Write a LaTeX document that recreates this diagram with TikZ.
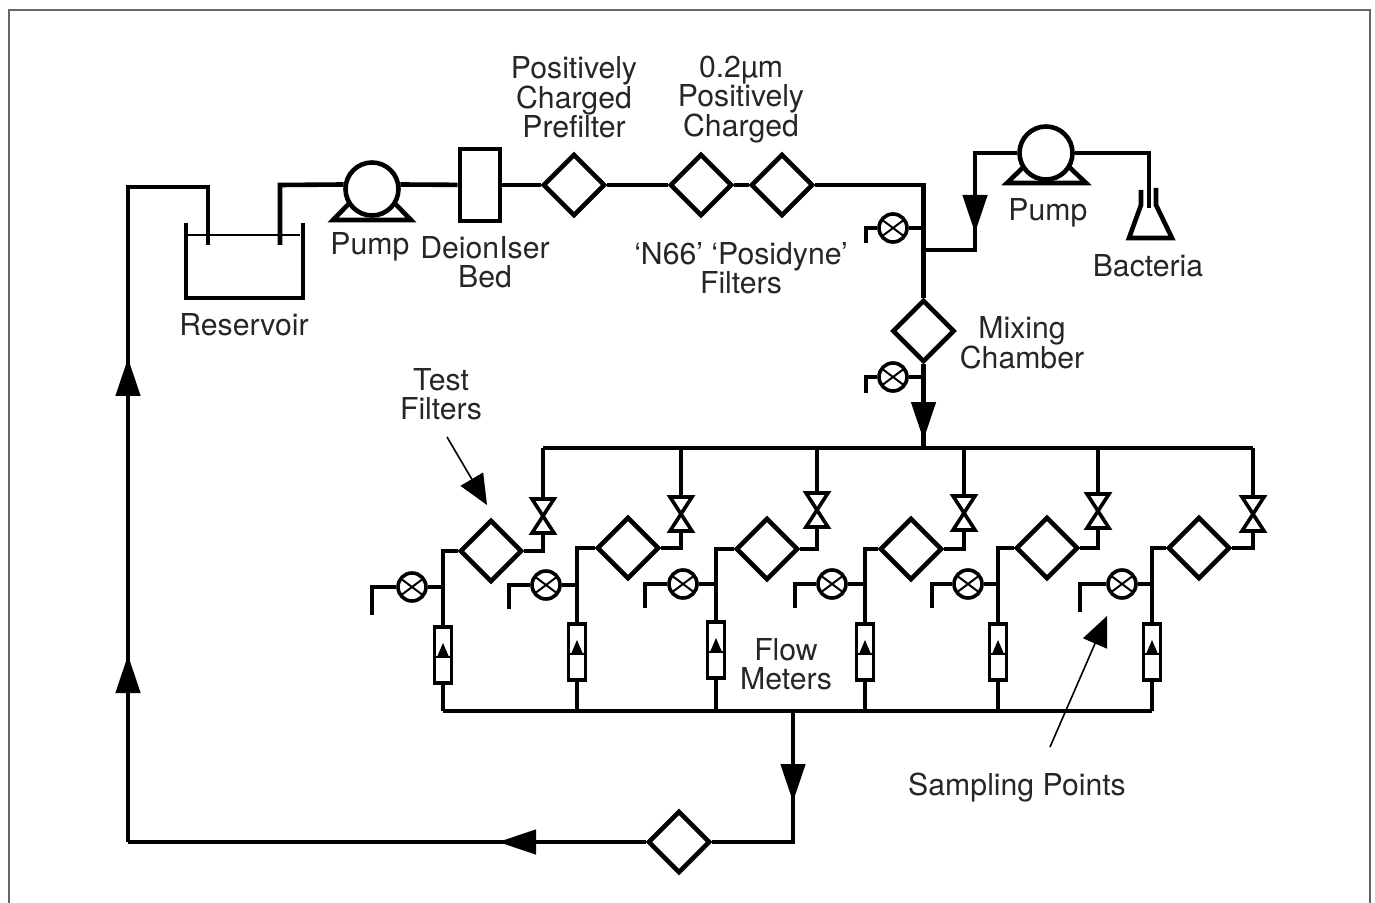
\documentclass[tikz,border=0pt]{standalone}
\usepackage{fontspec}
\setmainfont{TeX Gyre Heros}
\usetikzlibrary{arrows.meta,shapes.geometric,shapes.misc}
\lineskiplimit=-20pt
\tikzstyle{pipe}=[line width=2.3pt,line join=miter]
\tikzstyle{thinline}=[line width=0.8pt]
\tikzstyle{flow}=[line width=2.3pt,-{Triangle[length=19pt,width=12pt]}]
\tikzstyle{pointer}=[line width=0.8pt,-{Triangle[length=15pt,width=13pt]}]
\tikzstyle{filterbox}=[diamond,draw=black,line width=2.3pt,fill=white,inner sep=0pt,minimum size=31pt]
\tikzstyle{pumpbody}=[circle,draw=black,line width=2.3pt,fill=white,inner sep=0pt,minimum size=26.5pt]
\tikzstyle{samplevalve}=[cross out,draw=black,line width=1pt,inner sep=0pt,minimum width=11pt,minimum height=8pt]
\tikzstyle{samplering}=[circle,draw=black,line width=1.8pt,fill=white,inner sep=0pt,minimum size=14pt]
\tikzstyle{metertube}=[rectangle,draw=black,line width=1.8pt,fill=white,inner sep=0pt,minimum width=8.5pt,minimum height=28pt]
\tikzstyle{labeltext}=[font=\fontsize{15.1pt}{14.75pt}\selectfont,align=center,text=black!85,inner sep=0pt]
\begin{document}
\begin{tikzpicture}[x=0.5pt,y=-0.5pt]
\useasboundingbox (0,0) rectangle (1375,903);
\coordinate (frameA) at (9,903); \coordinate (frameB) at (9,10);
\coordinate (frameC) at (1370,10); \coordinate (frameD) at (1370,903);
\draw[black!60,line width=1.1pt] (frameA)--(frameB)--(frameC)--(frameD);
% supply line
\coordinate (res1) at (186,223); \coordinate (res2) at (186,298);
\coordinate (res3) at (303,298); \coordinate (res4) at (303,223);
\draw[pipe] (res1)--(res2)--(res3)--(res4);
\coordinate (lev1) at (186,235); \coordinate (lev2) at (300,235);
\draw[thinline] (lev1)--(lev2);
\coordinate (ret1) at (128,842); \coordinate (ret2) at (128,187);
\coordinate (ret3) at (208,187); \coordinate (ret4) at (208,245);
\coordinate (sup1) at (280,245); \coordinate (sup2) at (280,185);
\coordinate (base1) at (333,220); \coordinate (base2) at (411,220); \coordinate (top1) at (372,180);
\draw[pipe] (base1)--(top1)--(base2)--cycle;
\node[pumpbody] (P1) at (372,189) {};
\node[rectangle,draw=black,line width=2.3pt,fill=white,inner sep=0pt,minimum width=20pt,minimum height=36pt] (D) at (480,185) {};
\node[filterbox] (F1) at (574,185) {};
\node[filterbox] (F2) at (701,185) {};
\node[filterbox] (F3) at (782,185) {};
\node[filterbox] (M) at (923.5,331) {};
\coordinate (C1) at (923.5,185);
\draw[pipe] (ret4)--(ret3)--(ret2)--(ret1);
\draw[pipe] (sup1)--(sup2)--(P1.171);
\draw[pipe] (P1.9)--(D); \draw[pipe] (D)--(F1); \draw[pipe] (F1)--(F2); \draw[pipe] (F2)--(F3);
\draw[pipe] (F3)--(C1)--(M);
% bacteria feed
\coordinate (J1) at (923.5,250); \coordinate (J2) at (975,250); \coordinate (J3) at (975,153);
\coordinate (base3) at (1007,183); \coordinate (base4) at (1086,183); \coordinate (top2) at (1046,145);
\draw[pipe] (base3)--(top2)--(base4)--cycle;
\node[pumpbody] (P2) at (1046,153) {};
\coordinate (J4) at (1149,153); \coordinate (J5) at (1149,208);
\draw[pipe] (J1)--(J2)--(J3)--(P2);
\draw[pipe] (P2)--(J4)--(J5);
\coordinate (tip1) at (975,233); \coordinate (tail1) at (975,190);
\draw[flow] (tail1)--(tip1);
\coordinate (fl1) at (1141,190); \coordinate (fl2) at (1141,205); \coordinate (fl3) at (1129,238);
\coordinate (fl4) at (1172,238); \coordinate (fl5) at (1156,205); \coordinate (fl6) at (1156,188);
\draw[pipe] (fl1)--(fl2)--(fl3)--(fl4)--(fl5)--(fl6);
% mixing chamber to manifold
\coordinate (H0) at (923.5,448); \coordinate (H2) at (543,448); \coordinate (H3) at (1253,448);
\draw[pipe] (M)--(H0); \draw[pipe] (H2)--(H3);
\coordinate (tip2) at (923.5,440); \coordinate (tail2) at (923.5,398);
\draw[flow] (tail2)--(tip2);
\node[samplering] (S7) at (893,228) {}; \node[samplevalve] at (S7) {};
\coordinate (S7a) at (923.5,228); \coordinate (S7b) at (866,228); \coordinate (S7c) at (866,243);
\draw[pipe] (S7a)--(S7); \draw[pipe] (S7)--(S7b)--(S7c);
\node[samplering] (S8) at (893,377) {}; \node[samplevalve] at (S8) {};
\coordinate (S8a) at (923.5,377); \coordinate (S8b) at (866,377); \coordinate (S8c) at (866,393);
\draw[pipe] (S8a)--(S8); \draw[pipe] (S8)--(S8b)--(S8c);
% test branches: drop, valve y, filter x, filter y, meter x, meter y, sample x, sample y, stub x
\coordinate (L1) at (443,711); \coordinate (L2) at (1152,711);
\foreach \n/\dx/\vy/\fx/\fy/\mx/\my/\sx/\sy/\tx/\ty in {
 1/543/516/491/551/443/655/412/587/372/615,
 2/681/514/628/548/577/652/546/585/509/609,
 3/817/510/767/549/716/650/683/584/645/608,
 4/964/513/911/549/865/652/832/584/795/608,
 5/1098/511/1047/548/998/652/968/584/932/608,
 6/1253/514/1199/548/1152/652/1122/584/1080/612}{
 \coordinate (top\n) at (\dx,448);
 \coordinate (vt\n) at (\dx,\vy-17); \coordinate (vb\n) at (\dx,\vy+17);
 \coordinate (vl\n) at (\dx-11,\vy-17); \coordinate (vr\n) at (\dx+11,\vy-17);
 \coordinate (wl\n) at (\dx-11,\vy+17); \coordinate (wr\n) at (\dx+11,\vy+17);
 \node[filterbox] (T\n) at (\fx,\fy) {};
 \coordinate (out\n) at (\dx,\fy);
 \coordinate (in\n) at (\mx,\fy);
 \coordinate (bot\n) at (\mx,711);
 \coordinate (sj\n) at (\mx,\sy);
 \coordinate (st\n) at (\tx,\sy); \coordinate (su\n) at (\tx,\ty);
 \draw[pipe] (top\n)--(vt\n);
 \draw[pipe] (vb\n)--(out\n)--(T\n);
 \draw[line width=1.8pt,line join=miter] (vl\n)--(vr\n)--(wl\n)--(wr\n)--cycle;
 \node[metertube] (V\n) at (\mx,\my) {};
 \draw[pipe] (T\n)--(in\n)--(V\n);
 \draw[pipe] (V\n)--(bot\n);
 \node[samplering] (S\n) at (\sx,\sy) {}; \node[samplevalve] at (S\n) {};
 \draw[pipe] (sj\n)--(S\n); \draw[pipe] (S\n)--(st\n)--(su\n);
 \coordinate (mL\n) at (\mx-8,\my+2); \coordinate (mR\n) at (\mx+8,\my+2);
 \coordinate (mA\n) at (\mx,\my-12); \coordinate (mB\n) at (\mx-6,\my+2); \coordinate (mC\n) at (\mx+6,\my+2);
 \draw[line width=1.2pt] (mL\n)--(mR\n);
 \fill (mA\n)--(mB\n)--(mC\n)--cycle;
}
% return line
\draw[pipe] (L1)--(L2);
\node[filterbox] (R) at (679,842) {};
\coordinate (L3) at (793,711); \coordinate (L4) at (793,842);
\draw[pipe] (L3)--(L4)--(R);
\draw[pipe] (R)--(ret1);
\coordinate (tail3) at (793,760); \coordinate (tip3) at (793,802);
\draw[flow] (tail3)--(tip3);
\coordinate (tail4) at (545,842); \coordinate (tip4) at (498,842);
\draw[flow] (tail4)--(tip4);
\coordinate (tail5) at (128,400); \coordinate (tip5) at (128,358);
\draw[flow] (tail5)--(tip5);
\coordinate (tail6) at (128,700); \coordinate (tip6) at (128,655);
\draw[flow] (tail6)--(tip6);
% labels
\node[labeltext] (tPrefilter) at (574,97.5) {Positively\\Charged\\Prefilter};
\node[labeltext] (tCharged) at (741,99.5) {0.2µm\\Positively\\Charged};
\node[labeltext] (tNylon) at (741,268) {‘N66’ ‘Posidyne’\\Filters};
\node[labeltext] (tPump1) at (370,247) {Pump};
\node[labeltext] (tBed) at (485,262) {DeionIser\\Bed};
\node[labeltext] (tRes) at (244,325) {Reservoir};
\node[labeltext] (tPump2) at (1048,213) {Pump};
\node[labeltext] (tBact) at (1148,266) {Bacteria};
\node[labeltext] (tMix) at (1022,343) {Mixing\\Chamber};
\node[labeltext] (tTest) at (441,394) {Test\\Filters};
\node[labeltext] (tFlow) at (786,664) {Flow\\Meters};
\node[labeltext] (tSamp) at (1017,788) {Sampling Points};
\coordinate (pa) at (447,437); \coordinate (pb) at (487,505);
\draw[pointer] (pa)--(pb);
\coordinate (pc) at (1050,747); \coordinate (pd) at (1107,616);
\draw[pointer] (pc)--(pd);
\end{tikzpicture}
\end{document}
